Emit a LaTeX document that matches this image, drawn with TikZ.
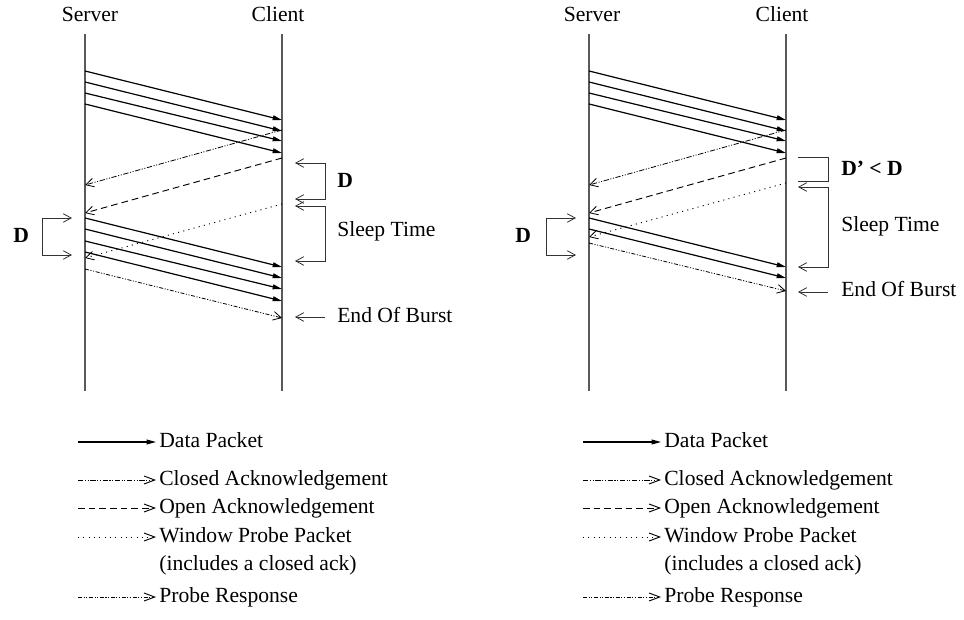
\documentclass[tikz,border=0pt]{standalone}
\usepackage{fontspec}
\setmainfont{Liberation Serif}
\usetikzlibrary{arrows.meta}

\tikzset{
  barb/.tip={Straight Barb[length=6pt,width=6.5pt,line width=0.6pt]},
  lifeline/.style={line width=0.9pt, black!65},
  brace/.style={line width=0.7pt, black!80},
  lbl/.style={inner sep=0pt, anchor=base west},
  keytip/.style={-{Straight Barb[length=8pt,width=6pt,line width=0.7pt]}},
}

\begin{document}
\begin{tikzpicture}
      [x=0.75pt, y=-0.75pt, font=\fontsize{16.2}{19}\selectfont,
      data/.style={line width=0.9pt, -{Triangle[length=7pt,width=3.6pt]}},
      closedack/.style={line width=0.6pt, -barb,
        dash pattern=on 4pt off 1.2pt on 0.8pt off 1.2pt on 0.8pt off 1.2pt},
      openack/.style={line width=0.7pt, -barb, dash pattern=on 5pt off 3pt},
      probe/.style={line width=0.7pt, -barb, dash pattern=on 0.8pt off 3.2pt},
      proberesp/.style={line width=0.6pt, -barb,
        dash pattern=on 3pt off 1.2pt on 0.8pt off 1.2pt on 0.8pt off 1.2pt}]
      \useasboundingbox (0,0) rectangle (964,620);
      % Place nodes
      \coordinate (S1) at (85,34);  \coordinate (S1end) at (85,391);
      \coordinate (C1) at (282,34); \coordinate (C1end) at (282,391);
      \coordinate (S2) at (589,34); \coordinate (S2end) at (589,391);
      \coordinate (C2) at (786,34); \coordinate (C2end) at (786,391);
      \node [lbl, anchor=base] (server1) at (90,22) {Server};
      \node [lbl, anchor=base] (client1) at (278,22) {Client};
      \node [lbl, anchor=base] (server2) at (592,22) {Server};
      \node [lbl, anchor=base] (client2) at (782,22) {Client};
      \draw [lifeline] (S1) -- (S1end);
      \draw [lifeline] (C1) -- (C1end);
      \draw [lifeline] (S2) -- (S2end);
      \draw [lifeline] (C2) -- (C2end);
      % Draw edges (left)
      \foreach \a/\b in {71/120, 82/131, 93/141, 104/153, 218/267, 229/278, 241/289, 252/301}
        \draw [data] (S1 |- 0,\a) -- (C1 |- 0,\b);
      \draw [closedack] (C1 |- 0,130) -- (S1 |- 0,185);
      \draw [openack] (C1 |- 0,158) -- (S1 |- 0,213);
      \draw [probe] (C1 |- 0,204) -- (S1 |- 0,258);
      \draw [proberesp] (S1 |- 0,269) -- (C1 |- 0,318);
      % Draw edges (right)
      \foreach \a/\b in {71/120, 82/131, 93/141, 104/153, 218/267, 229/278}
        \draw [data] (S2 |- 0,\a) -- (C2 |- 0,\b);
      \draw [closedack] (C2 |- 0,130) -- (S2 |- 0,185);
      \draw [openack] (C2 |- 0,158) -- (S2 |- 0,213);
      \draw [probe] (C2 |- 0,183) -- (S2 |- 0,237);
      \draw [proberesp] (S2 |- 0,243) -- (C2 |- 0,291);
      % brackets
      \draw [brace, barb-barb] (72,218) -| (42,255) -- (72,255);
      \draw [brace, barb-barb] (295,163) -| (325,199) -- (295,199);
      \draw [brace, barb-barb] (295,206) -| (325,261) -- (295,261);
      \draw [brace, -barb] (325,317) -- (295,317);
      \draw [brace, barb-barb] (576,218) -| (546,255) -- (576,255);
      \draw [brace] (798,157) -| (828,181) -- (798,181);
      \draw [brace, barb-barb] (798,187) -| (828,267) -- (798,267);
      \draw [brace, -barb] (828,292) -- (798,292);
      \node [lbl, font=\fontsize{16.2}{19}\selectfont\bfseries] (delay1) at (13,243) {D};
      \node [lbl, font=\fontsize{16.2}{19}\selectfont\bfseries] (delay2) at (337,188) {D};
      \node [lbl] (sleep1) at (337,237) {Sleep Time};
      \node [lbl] (eob1) at (337,323) {End Of Burst};
      \node [lbl, font=\fontsize{16.2}{19}\selectfont\bfseries] (delay3) at (515,243) {D};
      \node [lbl, font=\fontsize{16.2}{19}\selectfont\bfseries] (delay4) at (841,176) {D’ < D};
      \node [lbl] (sleep2) at (841,232) {Sleep Time};
      \node [lbl] (eob2) at (841,297) {End Of Burst};
      % legends
      \foreach \x/\side in {78/L, 583/R} {
        \foreach \sty/\y/\txt [count=\i] in {data/442/Data Packet,
            closedack/480/Closed Acknowledgement, openack/508/Open Acknowledgement,
            probe/537/Window Probe Packet, proberesp/597/Probe Response} {
          \coordinate (key\side\i) at (\x,\y);
          \ifnum\i=1
            \draw [\sty] (key\side\i) -- ++(78,0) coordinate (keyend\side\i);
          \else
            \draw [\sty, keytip] (key\side\i) -- ++(78,0) coordinate (keyend\side\i);
          \fi
          \node [lbl] (keytxt\side\i) at ([xshift=2.3pt,yshift=-4.1pt]keyend\side\i) {\txt};
        }
        \node [lbl] (note\side) at ([yshift=-4.1pt]keytxt\side4.base west |- 0,565) {(includes a closed ack)};
      }
\end{tikzpicture}
\end{document}
